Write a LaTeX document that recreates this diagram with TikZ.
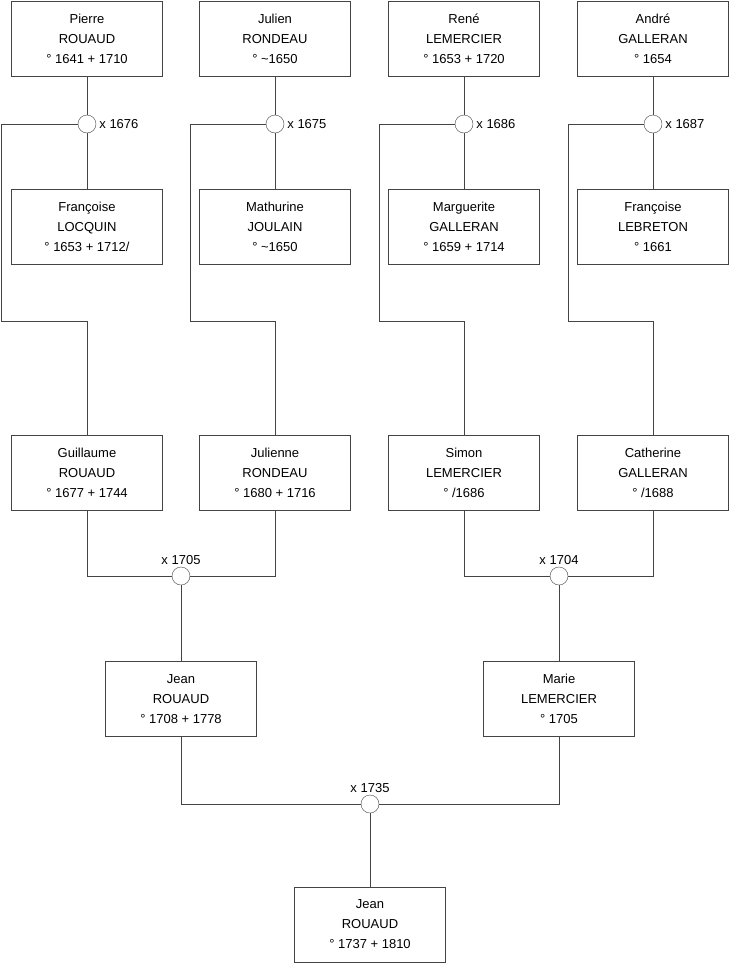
\documentclass[tikz,border=0pt]{standalone}
\usepackage{fontspec}
\setmainfont{Liberation Sans}
\usetikzlibrary{positioning,backgrounds}
\definecolor{edge}{HTML}{444444}

\tikzset{
  person/.style={draw=edge,fill=white,minimum width=151pt,minimum height=75pt,align=center,
    font=\fontsize{13pt}{20pt}\selectfont,inner sep=0pt,execute at begin node={\rule{0pt}{14pt}}},
  union/.style={circle,draw=edge,fill=white,minimum size=18pt,inner sep=0pt},
  year/.style={font=\fontsize{13pt}{16pt}\selectfont,inner sep=1pt},
  link/.style={edge,line width=0.8pt}
}

\begin{document}
\begin{tikzpicture}[x=1pt,y=-1pt]
        \useasboundingbox (0,0) rectangle (740,975);
        % top row
        \node[person] (pierre) at (87,38.5){Pierre\\ROUAUD\\° 1641 + 1710};
        \node[person] (julien) at (275,38.5){Julien\\RONDEAU\\° \textasciitilde1650};
        \node[person] (rene) at (464,38.5){René\\LEMERCIER\\° 1653 + 1720};
        \node[person] (andre) at (653,38.5){André\\GALLERAN\\° 1654};
        % spouses
        \node[person] (francoise) at (87,227){Françoise\\LOCQUIN\\° 1653 + 1712/};
        \node[person] (mathurine) at (275,227){Mathurine\\JOULAIN\\° \textasciitilde1650};
        \node[person] (marguerite) at (464,227){Marguerite\\GALLERAN\\° 1659 + 1714};
        \node[person] (francoise2) at (653,227){Françoise\\LEBRETON\\° 1661};
        % children
        \node[person] (guillaume) at (87,472.5){Guillaume\\ROUAUD\\° 1677 + 1744};
        \node[person] (julienne) at (275,472.5){Julienne\\RONDEAU\\° 1680 + 1716};
        \node[person] (simon) at (464,472.5){Simon\\LEMERCIER\\° /1686};
        \node[person] (catherine) at (653,472.5){Catherine\\GALLERAN\\° /1688};
        \node[person] (jean) at (181,699){Jean\\ROUAUD\\° 1708 + 1778};
        \node[person] (marie) at (559,699){Marie\\LEMERCIER\\° 1705};
        \node[person] (jean2) at (370,924.5){Jean\\ROUAUD\\° 1737 + 1810};
        % marriages
        \node[union] (m1) at (87,124){};
        \node[union] (m2) at (275,124){};
        \node[union] (m3) at (464,124){};
        \node[union] (m4) at (653,124){};
        \node[union] (m5) at (181,576){};
        \node[union] (m6) at (559,576){};
        \node[union] (m7) at (370,804){};
        \node[year,right=2pt of m1] (y1){x 1676};
        \node[year,right=2pt of m2] (y2){x 1675};
        \node[year,right=2pt of m3] (y3){x 1686};
        \node[year,right=2pt of m4] (y4){x 1687};
        \node[year,above=1pt of m5] (y5){x 1705};
        \node[year,above=1pt of m6] (y6){x 1704};
        \node[year,above=1pt of m7] (y7){x 1735};
        % links
        \begin{scope}[on background layer]
        \draw[link] (pierre) -- (m1) -- (francoise);
        \draw[link] (julien) -- (m2) -- (mathurine);
        \draw[link] (rene) -- (m3) -- (marguerite);
        \draw[link] (andre) -- (m4) -- (francoise2);
        \draw[link] (m1.west) -- (1,124) -- (1,321) -| (guillaume.north);
        \draw[link] (m2.west) -- (190,124) -- (190,321) -| (julienne.north);
        \draw[link] (m3.west) -- (379,124) -- (379,321) -| (simon.north);
        \draw[link] (m4.west) -- (568,124) -- (568,321) -| (catherine.north);
        \draw[link] (guillaume.south) |- (m5.west);
        \draw[link] (julienne.south) |- (m5.east);
        \draw[link] (simon.south) |- (m6.west);
        \draw[link] (catherine.south) |- (m6.east);
        \draw[link] (m5) -- (jean);
        \draw[link] (m6) -- (marie);
        \draw[link] (jean.south) |- (m7.west);
        \draw[link] (marie.south) |- (m7.east);
        \draw[link] (m7) -- (jean2);
        \end{scope}
      \end{tikzpicture}
\end{document}
